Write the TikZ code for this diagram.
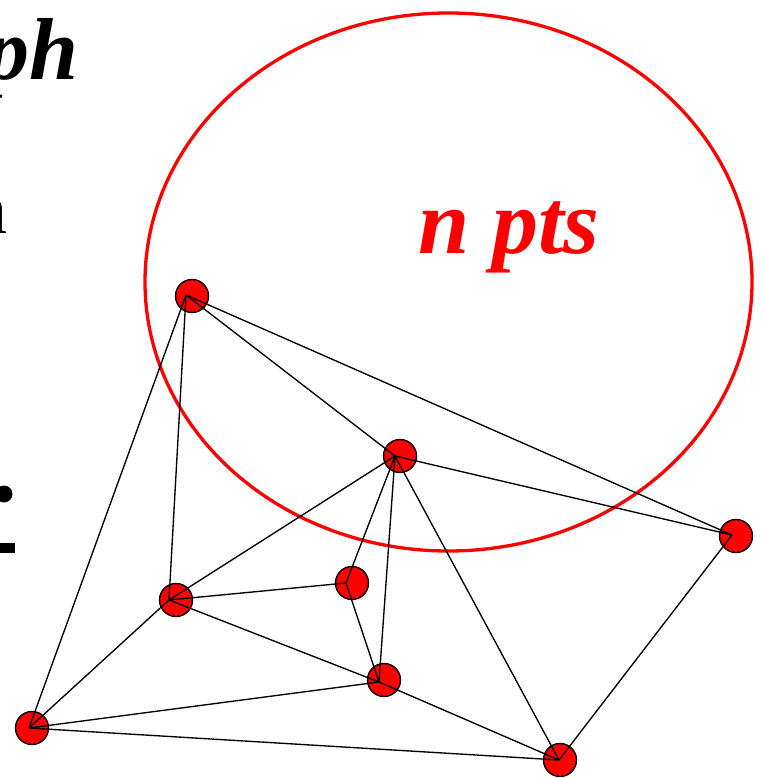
\documentclass[tikz,border=0pt]{standalone}
\usepackage{fontspec}
\setmainfont{Liberation Serif}
\begin{document}
\begin{tikzpicture}[x=1pt,y=-1pt,
  pt/.style={circle,draw=black,fill=red,line width=1.4pt,minimum size=33pt,inner sep=0pt},
  edge/.style={draw=black,line width=1.35pt},
  big/.style={inner sep=0pt,font=\fontsize{88}{88}\selectfont\bfseries\itshape}]
\useasboundingbox (0,0) rectangle (763,778);
\clip (0,0) rectangle (763,778);
% cropped text at left edge
\node[big,anchor=base east] (t1) at (79,80) {Graph};
\node[inner sep=0pt,anchor=base east,font=\fontsize{72}{72}\selectfont] (t2) at (8,233) {n};
\fill (4,494) circle (8.5);
\fill (0,543) rectangle (15,553);
% ellipse and label
\draw[red,line width=3.3pt] (448.5,282) ellipse [x radius=303.5,y radius=269];
\node[big,text=red,anchor=base west,font=\fontsize{92}{92}\selectfont\bfseries\itshape] (lbl) at (418,253) {n pts};
% points
\node[pt] (A) at (192,296) {};
\node[pt] (B) at (400,456) {};
\node[pt] (C) at (736,536) {};
\node[pt] (D) at (352,583) {};
\node[pt] (E) at (176,600) {};
\node[pt] (F) at (384,680) {};
\node[pt] (G) at (32,728) {};
\node[pt] (H) at (560,760) {};
% edge end points
\coordinate (a) at (186,295);
\coordinate (b) at (395,456);
\coordinate (c) at (732,535);
\coordinate (d) at (346,583);
\coordinate (e) at (169,600);
\coordinate (f) at (379,682);
\coordinate (g) at (29,728);
\coordinate (h) at (559,760);
\path[edge] (a) -- (b) (a) -- (c) (a) -- (e) (a) -- (g)
  (b) -- (c) (b) -- (e) (b) -- (d) (b) -- (f) (b) -- (h)
  (d) -- (e) (d) -- (f)
  (e) -- (f) (e) -- (g)
  (f) -- (g) (f) -- (h)
  (g) -- (h) (c) -- (h);
\end{tikzpicture}
\end{document}
